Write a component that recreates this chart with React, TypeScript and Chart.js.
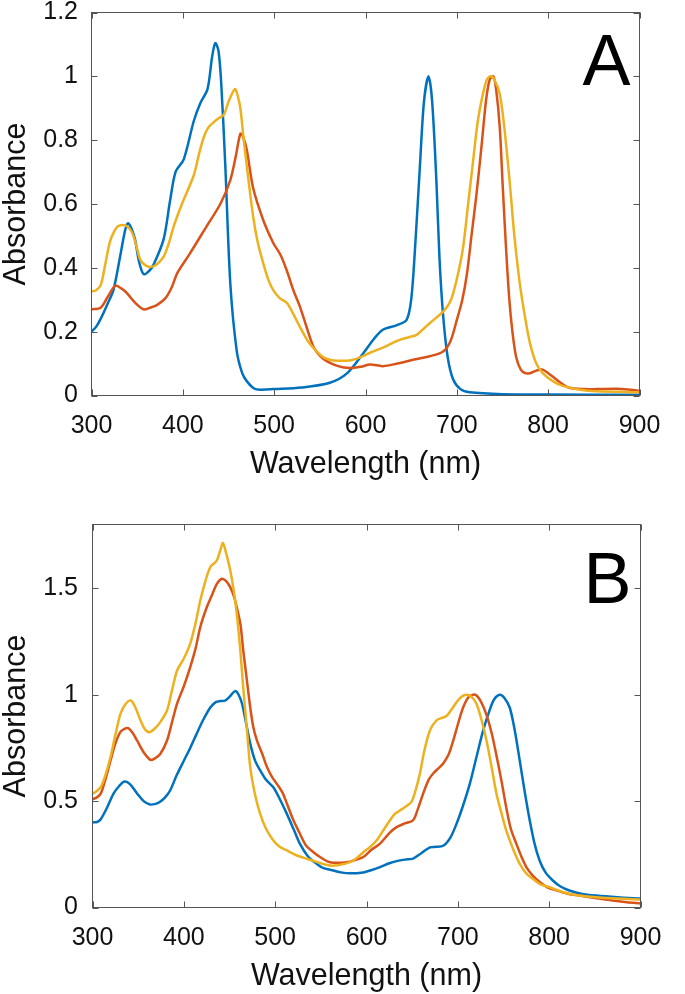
import React, { useEffect, useRef } from 'react';
import { Chart, registerables } from 'chart.js';

Chart.register(...registerables);

const BLUE = '#0072BD';
const RED = '#D95319';
const YELLOW = '#EDB120';

const xTicks = [300, 400, 500, 600, 700, 800, 900];
const yTicksA = [0, 0.2, 0.4, 0.6, 0.8, 1, 1.2];
const yTicksB = [0, 0.5, 1, 1.5];

// ---------- Panel A ----------
const wlA1 = [300, 305, 310, 318, 324, 332, 337, 340, 343.5, 347.6, 352, 357, 363, 368, 379, 386, 392, 401, 412, 419, 427, 432, 435.5, 439, 442, 446.5, 452, 459, 465, 470, 478, 485, 500, 530, 561, 580, 598, 610, 619, 634, 645, 650, 654, 659.6, 664, 669, 673, 677.8, 681, 685, 690, 696, 704, 714, 750, 800, 900];
const absA1 = [0.2, 0.215, 0.24, 0.29, 0.33, 0.446, 0.52, 0.54, 0.525, 0.49, 0.42, 0.38, 0.39, 0.41, 0.49, 0.61, 0.7, 0.74, 0.86, 0.915, 0.96, 1.06, 1.104, 1.08, 0.98, 0.72, 0.35, 0.14, 0.07, 0.045, 0.022, 0.018, 0.02, 0.025, 0.04, 0.07, 0.134, 0.18, 0.206, 0.22, 0.237, 0.3, 0.45, 0.72, 0.92, 1.0, 0.92, 0.66, 0.43, 0.25, 0.12, 0.05, 0.02, 0.01, 0.004, 0.003, 0.002];

const wlA2 = [300, 310, 318, 326, 333, 339, 348, 357, 364, 372, 381, 388, 394, 408, 426, 441, 452, 458, 463, 466, 470, 477, 488, 499, 507, 514, 521, 528, 536, 543, 550, 558, 570, 583, 595, 605, 619, 635, 652, 670, 685, 693, 700, 706, 711, 716, 721.5, 727, 732, 736, 740, 743, 747, 750, 754, 757.5, 761, 765, 770, 775, 780, 787, 794, 800, 809, 816, 823, 840, 853, 875, 890, 900];
const absA2 = [0.27, 0.275, 0.31, 0.344, 0.335, 0.32, 0.29, 0.27, 0.275, 0.284, 0.305, 0.34, 0.384, 0.446, 0.53, 0.6, 0.675, 0.75, 0.82, 0.81, 0.77, 0.65, 0.55, 0.478, 0.44, 0.39, 0.33, 0.28, 0.21, 0.153, 0.125, 0.107, 0.092, 0.086, 0.09, 0.097, 0.092, 0.1, 0.112, 0.123, 0.138, 0.17, 0.237, 0.3, 0.38, 0.5, 0.63, 0.78, 0.925, 0.99, 1.0, 0.96, 0.84, 0.67, 0.456, 0.3, 0.196, 0.12, 0.081, 0.07, 0.07, 0.078, 0.081, 0.07, 0.05, 0.035, 0.024, 0.02, 0.02, 0.021, 0.018, 0.015];

const wlA3 = [300, 305, 310, 315, 320, 325, 329, 333.5, 339, 344.5, 349, 353.5, 359, 364.5, 371, 379, 385, 390, 399, 412, 418, 423, 428, 434, 440, 445, 450, 457, 460, 463, 466, 470, 477, 482, 488, 494, 499, 506, 514, 521, 528, 537, 546.6, 555, 565, 583, 595, 605, 619, 630, 638, 648, 656, 664, 670.5, 685, 692, 696, 702, 707, 712, 718, 723, 728.6, 733, 737, 741, 747, 752, 758, 763, 769, 775, 780, 787, 794, 805, 816, 835, 852, 900];
const absA3 = [0.326, 0.33, 0.345, 0.41, 0.48, 0.515, 0.53, 0.534, 0.53, 0.51, 0.47, 0.425, 0.408, 0.403, 0.41, 0.435, 0.48, 0.53, 0.6, 0.69, 0.76, 0.81, 0.84, 0.857, 0.87, 0.88, 0.92, 0.96, 0.94, 0.9, 0.82, 0.72, 0.56, 0.48, 0.415, 0.36, 0.33, 0.305, 0.29, 0.255, 0.216, 0.17, 0.138, 0.118, 0.11, 0.11, 0.12, 0.134, 0.15, 0.165, 0.175, 0.183, 0.19, 0.21, 0.227, 0.263, 0.29, 0.32, 0.39, 0.467, 0.59, 0.74, 0.86, 0.945, 0.99, 1.0, 0.99, 0.945, 0.84, 0.665, 0.5, 0.35, 0.24, 0.165, 0.1, 0.07, 0.045, 0.03, 0.018, 0.013, 0.01];

// ---------- Panel B ----------
const wlB1 = [300, 305, 309, 316, 323, 329, 335, 341, 349, 356, 363, 369, 374, 379, 385, 392, 400, 407, 414, 421, 429, 435, 440, 445, 450, 454, 457, 460, 463.6, 468, 472.7, 478, 483.6, 490, 498, 505, 512.8, 520, 527, 536, 545.6, 553, 563.7, 572, 582, 596.5, 605, 614.8, 625, 633, 642, 651, 660, 669.4, 676, 684, 692, 698.6, 705, 713, 720, 727.6, 735, 740, 745.9, 751, 756.8, 762, 767.8, 773, 778.7, 784, 789.6, 796, 804, 812, 822, 835, 851.6, 875, 900];
const absB1 = [0.4, 0.402, 0.415, 0.47, 0.535, 0.57, 0.592, 0.58, 0.535, 0.5, 0.484, 0.487, 0.497, 0.515, 0.55, 0.62, 0.69, 0.75, 0.816, 0.88, 0.94, 0.965, 0.97, 0.972, 0.99, 1.01, 1.017, 1.0, 0.96, 0.87, 0.77, 0.69, 0.644, 0.6, 0.565, 0.51, 0.44, 0.37, 0.3, 0.24, 0.205, 0.185, 0.174, 0.165, 0.161, 0.165, 0.175, 0.19, 0.208, 0.218, 0.225, 0.23, 0.255, 0.283, 0.285, 0.29, 0.33, 0.394, 0.47, 0.58, 0.7, 0.83, 0.93, 0.98, 1.0, 0.985, 0.94, 0.84, 0.69, 0.55, 0.41, 0.3, 0.22, 0.165, 0.127, 0.1, 0.08, 0.065, 0.056, 0.048, 0.042];

const wlB2 = [300, 304, 309, 314, 319.7, 325, 330.6, 335, 339, 344, 348.8, 356, 363.4, 368, 374, 381.6, 387, 392.6, 400, 407, 413, 418, 425, 431, 436, 441.7, 446, 450.8, 455, 458, 462, 465, 469, 472.7, 476, 480, 486, 491, 497, 502, 508, 512.8, 520, 527, 534, 541.9, 550, 560, 578, 589, 596.5, 605, 614.8, 625, 633, 642, 651, 656, 662, 668, 673, 679, 684, 690, 695, 700, 705.8, 712, 719, 725, 731, 737, 742, 748, 753, 758, 764, 770, 775, 782, 789.6, 798, 808, 820, 833, 850, 869, 885, 900];
const absB2 = [0.51, 0.515, 0.535, 0.6, 0.69, 0.77, 0.825, 0.84, 0.843, 0.82, 0.785, 0.73, 0.694, 0.7, 0.72, 0.785, 0.87, 0.958, 1.04, 1.13, 1.22, 1.318, 1.41, 1.47, 1.52, 1.545, 1.535, 1.506, 1.46, 1.41, 1.33, 1.21, 1.07, 0.94, 0.85, 0.785, 0.72, 0.66, 0.61, 0.58, 0.54, 0.489, 0.41, 0.348, 0.29, 0.26, 0.235, 0.213, 0.213, 0.225, 0.237, 0.27, 0.3, 0.35, 0.378, 0.395, 0.41, 0.46, 0.535, 0.6, 0.63, 0.655, 0.677, 0.72, 0.785, 0.86, 0.94, 0.99, 1.0, 0.97, 0.91, 0.82, 0.72, 0.59, 0.47, 0.37, 0.3, 0.235, 0.19, 0.15, 0.12, 0.095, 0.08, 0.065, 0.056, 0.045, 0.033, 0.025, 0.019];

const wlB3 = [300, 304, 309, 314, 319.7, 325, 330.6, 336, 342, 347, 352.5, 357, 362, 368, 374, 381.6, 387, 392.6, 400, 407, 413, 418, 424, 429, 436, 440, 442.8, 446, 450.8, 455, 458, 462, 465, 469, 472.7, 478, 483.6, 490, 498, 505, 512.8, 522, 534.6, 547, 560, 570, 582, 590, 596.5, 604, 611, 618, 625.7, 631, 636.6, 643, 649, 653, 658.5, 663, 669.4, 676.7, 682, 687.6, 693, 698.6, 704, 709.5, 715, 720.4, 726, 731.4, 737, 742.3, 748, 753, 760, 767.8, 775, 782, 790, 800.5, 810, 822, 835, 851.6, 875, 900];
const absB3 = [0.535, 0.545, 0.566, 0.62, 0.707, 0.81, 0.91, 0.955, 0.973, 0.94, 0.88, 0.84, 0.824, 0.84, 0.87, 0.926, 1.02, 1.114, 1.17, 1.24, 1.34, 1.443, 1.54, 1.6, 1.63, 1.68, 1.713, 1.67, 1.585, 1.48, 1.38, 1.2, 1.036, 0.84, 0.66, 0.53, 0.44, 0.37, 0.315, 0.285, 0.268, 0.248, 0.229, 0.212, 0.197, 0.2, 0.213, 0.235, 0.26, 0.285, 0.315, 0.36, 0.41, 0.44, 0.456, 0.475, 0.495, 0.54, 0.63, 0.73, 0.832, 0.88, 0.89, 0.9, 0.93, 0.965, 0.99, 1.0, 0.99, 0.958, 0.88, 0.785, 0.66, 0.535, 0.44, 0.362, 0.28, 0.205, 0.16, 0.135, 0.11, 0.095, 0.08, 0.065, 0.055, 0.048, 0.042, 0.038];

const FONT = '"Liberation Sans", Arial, Helvetica, sans-serif';

function pts(w: number[], a: number[]) {
  return w.map((x, i) => ({ x, y: a[i] }));
}

const framePlugin = {
  id: 'matlabFrame',
  afterDatasetsDraw(chart: any, _args: any, opts: any) {
    const { ctx, chartArea: ca, scales } = chart;
    ctx.save();
    ctx.strokeStyle = '#555555';
    ctx.lineWidth = 1;
    ctx.strokeRect(ca.left, ca.top, ca.right - ca.left, ca.bottom - ca.top);
    const L = 6;
    ctx.beginPath();
    scales.x.ticks.forEach((t: any) => {
      const p = Math.round(scales.x.getPixelForValue(t.value)) + 0.5;
      ctx.moveTo(p, ca.bottom);
      ctx.lineTo(p, ca.bottom - L);
      ctx.moveTo(p, ca.top);
      ctx.lineTo(p, ca.top + L);
    });
    scales.y.ticks.forEach((t: any) => {
      const p = Math.round(scales.y.getPixelForValue(t.value)) + 0.5;
      ctx.moveTo(ca.left, p);
      ctx.lineTo(ca.left + L, p);
      ctx.moveTo(ca.right, p);
      ctx.lineTo(ca.right - L, p);
    });
    ctx.stroke();
    ctx.fillStyle = '#000';
    ctx.font = `72px ${FONT}`;
    ctx.textAlign = 'right';
    ctx.textBaseline = 'alphabetic';
    ctx.fillText(opts.letter, ca.right - 9, ca.top + opts.letterDy);
    ctx.restore();
  },
};

type PanelProps = {
  series: { wl: number[]; abs: number[]; color: string }[];
  yMax: number;
  yTicks: number[];
  area: { left: number; top: number; right: number; bottom: number };
  titlePad: number;
  letter: string;
  letterDy: number;
};

const W = 685;
const H = 497;

function Panel(props: PanelProps) {
  const ref = useRef<HTMLCanvasElement | null>(null);
  useEffect(() => {
    const { series, yMax, yTicks, area, titlePad, letter, letterDy } = props;
    const chart = new Chart(ref.current as HTMLCanvasElement, {
      type: 'line',
      data: {
        datasets: series.map((s, i) => ({
          data: pts(s.wl, s.abs),
          borderColor: s.color,
          backgroundColor: s.color,
          borderWidth: 2.5,
          pointRadius: 0,
          fill: false,
          tension: 0.3,
          order: series.length - i,
        })),
      },
      options: {
        animation: false,
        responsive: false,
        devicePixelRatio: 1,
        events: [],
        layout: {
          padding: { left: 0, top: area.top, right: W - area.right, bottom: 0 },
        },
        plugins: {
          legend: { display: false },
          tooltip: { enabled: false },
          matlabFrame: { letter, letterDy },
        } as any,
        scales: {
          x: {
            type: 'linear',
            min: 300,
            max: 900,
            grid: { display: false, drawTicks: false },
            border: { display: false },
            afterBuildTicks: (s: any) => {
              s.ticks = xTicks.map((v) => ({ value: v }));
            },
            afterFit: (s: any) => {
              s.height = H - area.bottom;
              s.paddingLeft = 0;
              s.paddingRight = 0;
            },
            ticks: {
              padding: 18.5,
              color: '#111',
              maxRotation: 0,
              autoSkip: false,
              font: { family: FONT, size: 25, lineHeight: 1 },
              callback: (v: any) => String(v),
            },
            title: {
              display: true,
              text: 'Wavelength (nm)',
              color: '#111',
              font: { family: FONT, size: 30.5, lineHeight: 1.1 },
              padding: { top: 0, bottom: titlePad },
            },
          },
          y: {
            type: 'linear',
            min: 0,
            max: yMax,
            grid: { display: false, drawTicks: false },
            border: { display: false },
            afterBuildTicks: (s: any) => {
              s.ticks = yTicks.map((v) => ({ value: v }));
            },
            afterFit: (s: any) => {
              s.width = area.left;
              s.paddingTop = 0;
              s.paddingBottom = 0;
            },
            ticks: {
              padding: area.left - 78,
              color: '#111',
              autoSkip: false,
              font: { family: FONT, size: 25, lineHeight: 1 },
              callback: (v: any) => String(Math.round(v * 10) / 10),
            },
            title: {
              display: true,
              text: 'Absorbance',
              color: '#111',
              font: { family: FONT, size: 30.5, lineHeight: 1.1 },
              padding: { top: 0, bottom: 0 },
            },
          },
        },
      },
      plugins: [framePlugin],
    } as any);
    return () => chart.destroy();
  }, []);
  return <canvas ref={ref} width={W} height={H} style={{ display: 'block', width: W, height: H }} />;
}

export default function App() {
  return (
    <div style={{ position: 'absolute', left: 0, top: 0, width: W, height: 994, background: '#fff' }}>
      <Panel
        series={[
          { wl: wlA1, abs: absA1, color: BLUE },
          { wl: wlA2, abs: absA2, color: RED },
          { wl: wlA3, abs: absA3, color: YELLOW },
        ]}
        yMax={1.2}
        yTicks={yTicksA}
        area={{ left: 91.5, top: 12.5, right: 639.5, bottom: 395.5 }}
        titlePad={15.2}
        letter="A"
        letterDy={72.5}
      />
      <Panel
        series={[
          { wl: wlB1, abs: absB1, color: BLUE },
          { wl: wlB2, abs: absB2, color: RED },
          { wl: wlB3, abs: absB3, color: YELLOW },
        ]}
        yMax={1.8}
        yTicks={yTicksB}
        area={{ left: 92.5, top: 27.5, right: 640.5, bottom: 410.5 }}
        titlePad={0.2}
        letter="B"
        letterDy={78}
      />
    </div>
  );
}
